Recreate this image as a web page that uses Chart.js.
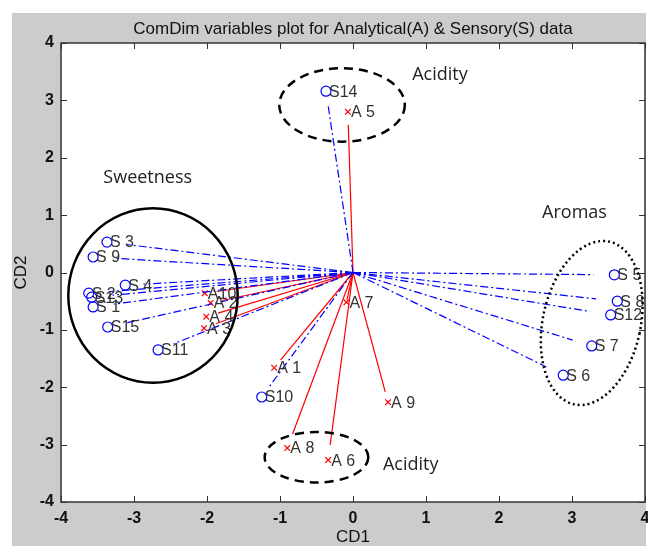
<!DOCTYPE html>
<html>
<head>
<meta charset="utf-8">
<script src="https://cdn.jsdelivr.net/npm/chart.js@4/dist/chart.umd.min.js"></script>
<style>
  html, body { margin: 0; padding: 0; background: #fff; }
  canvas { display: block; }
</style>
</head>
<body>
<canvas id="comdim" width="648" height="546"></canvas>
<script>
// sensory variables (blue circles, dash-dot lines)
const sNames = ["S 1", "S 2", "S 3", "S 4", "S 5", "S 6", "S 7", "S 8",
                "S 9", "S10", "S11", "S12", "S13", "S14", "S15"];
const sX = [-3.56, -3.62, -3.37, -3.12, 3.58, 2.88, 3.27, 3.62,
            -3.56, -1.25, -2.67, 3.53, -3.58, -0.37, -3.36];
const sY = [-0.60, -0.36, 0.53, -0.22, -0.04, -1.79, -1.28, -0.50,
            0.27, -2.17, -1.35, -0.74, -0.43, 3.16, -0.95];

// analytical variables (red crosses, solid lines)
const aNames = ["A 1", "A 2", "A 3", "A 4", "A 5", "A 6", "A 7", "A 8", "A 9", "A10"];
const aX = [-1.08, -1.95, -2.04, -2.01, -0.07, -0.34, -0.09, -0.90, 0.48, -2.03];
const aY = [-1.66, -0.53, -0.97, -0.77, 2.80, -3.27, -0.52, -3.06, -2.26, -0.36];

const axisTicks = [-4, -3, -2, -1, 0, 1, 2, 3, 4];

// hand drawn groups on the figure
const groupNames = ["Acidity", "Sweetness", "Aromas", "Acidity"];
const groupTextX = [0.81, -3.42, 2.59, 0.41];
const groupTextY = [3.44, 1.65, 1.04, -3.35];

// share of the vector length drawn as a line
const lineReach = 0.92;

const BLUE = "#0000ff";
const RED = "#ff0000";
const NARROW = "'Liberation Sans Narrow', 'Arial Narrow', 'Liberation Sans', sans-serif";

const vectorSet = (x, y, color, dash) => ({
  data: [{ x: 0, y: 0 }, { x: x * lineReach, y: y * lineReach }],
  borderColor: color,
  borderWidth: 1.2,
  borderDash: dash,
  pointRadius: 0,
  showLine: true,
  fill: false,
});

const markerSet = (xs, ys, color, style, radius) => ({
  data: xs.map((x, i) => ({ x: x, y: ys[i] })),
  borderColor: color,
  backgroundColor: "transparent",
  pointStyle: style,
  pointRadius: radius,
  pointBorderWidth: 1.2,
  showLine: false,
});

const datasets = [];
sX.forEach((x, i) => datasets.push(vectorSet(x, sY[i], BLUE, [8, 3, 2, 3])));
aX.forEach((x, i) => datasets.push(vectorSet(x, aY[i], RED, [])));
datasets.push(markerSet(sX, sY, BLUE, "circle", 5));
datasets.push(markerSet(aX, aY, RED, "crossRot", 4));

const matlabFrame = {
  id: "matlabFrame",
  beforeDraw(chart) {
    const { ctx, chartArea: a } = chart;
    ctx.save();
    ctx.fillStyle = "#ffffff";
    ctx.fillRect(0, 0, chart.width, chart.height);
    ctx.fillStyle = "#cccccc";
    ctx.fillRect(12, 13, chart.width - 14, chart.height - 13);
    ctx.fillStyle = "#ffffff";
    ctx.fillRect(a.left, a.top, a.right - a.left, a.bottom - a.top);
    ctx.restore();
  },
  afterDatasetsDraw(chart) {
    const { ctx, chartArea: a } = chart;
    const xs = chart.scales.x, ys = chart.scales.y;
    ctx.save();

    // point labels
    ctx.font = "16px 'Liberation Sans', Arial, sans-serif";
    ctx.fillStyle = "#333333";
    ctx.textAlign = "left";
    ctx.textBaseline = "middle";
    sNames.forEach((n, i) => ctx.fillText(n, xs.getPixelForValue(sX[i]) + 3, ys.getPixelForValue(sY[i]) + 1));
    aNames.forEach((n, i) => ctx.fillText(n, xs.getPixelForValue(aX[i]) + 3, ys.getPixelForValue(aY[i]) + 1));

    // ellipses around groups
    const ux = (xs.getPixelForValue(1) - xs.getPixelForValue(0));
    const uy = (ys.getPixelForValue(0) - ys.getPixelForValue(1));
    const ellipse = (cx, cy, rx, ry, rot, dash, width) => {
      ctx.beginPath();
      ctx.setLineDash(dash);
      ctx.lineWidth = width;
      ctx.strokeStyle = "#000000";
      ctx.ellipse(xs.getPixelForValue(cx), ys.getPixelForValue(cy), rx * ux, ry * uy, rot, 0, Math.PI * 2);
      ctx.stroke();
    };
    ellipse(-0.15, 2.92, 0.86, 0.64, 0, [9, 6], 2.5);
    ellipse(-2.74, -0.40, 1.16, 1.52, 0, [], 2.5);
    ellipse(3.27, -0.88, 0.67, 1.45, 0.21, [2, 3], 2.5);
    ellipse(-0.50, -3.22, 0.71, 0.44, 0, [9, 6], 2.5);
    ctx.setLineDash([]);

    ctx.font = "18px 'Open Sans', sans-serif";
    ctx.fillStyle = "#222222";
    ctx.textAlign = "left";
    ctx.textBaseline = "middle";
    groupNames.forEach((n, i) =>
      ctx.fillText(n, xs.getPixelForValue(groupTextX[i]), ys.getPixelForValue(groupTextY[i])));

    // box and inward ticks
    ctx.strokeStyle = "#333333";
    ctx.lineWidth = 1.5;
    ctx.strokeRect(a.left, a.top, a.right - a.left, a.bottom - a.top);
    ctx.lineWidth = 1;
    ctx.beginPath();
    axisTicks.forEach((t) => {
      const px = Math.round(xs.getPixelForValue(t)) + 0.5;
      const py = Math.round(ys.getPixelForValue(t)) + 0.5;
      ctx.moveTo(px, a.bottom); ctx.lineTo(px, a.bottom - 6);
      ctx.moveTo(px, a.top); ctx.lineTo(px, a.top + 6);
      ctx.moveTo(a.left, py); ctx.lineTo(a.left + 6, py);
      ctx.moveTo(a.right, py); ctx.lineTo(a.right - 6, py);
    });
    ctx.stroke();

    // title and axis names
    ctx.fillStyle = "#111111";
    ctx.font = "17px " + NARROW;
    ctx.textAlign = "center";
    ctx.textBaseline = "middle";
    ctx.fillText("ComDim variables plot for Analytical(A) & Sensory(S) data", (a.left + a.right) / 2, 29);
    ctx.fillText("CD1", (a.left + a.right) / 2, 537);
    ctx.translate(21, (a.top + a.bottom) / 2);
    ctx.rotate(-Math.PI / 2);
    ctx.fillText("CD2", 0, 0);
    ctx.restore();
  },
};

new Chart(document.getElementById("comdim").getContext("2d"), {
  type: "scatter",
  data: { datasets: datasets },
  options: {
    responsive: false,
    animation: false,
    devicePixelRatio: 1,
    layout: { autoPadding: false, padding: { top: 43, left: 0, right: 3, bottom: 0 } },
    plugins: { legend: { display: false }, tooltip: { enabled: false } },
    scales: {
      x: {
        type: "linear",
        min: -4,
        max: 4,
        afterFit: (s) => { s.height = 44; s.paddingLeft = 0; s.paddingRight = 0; },
        afterBuildTicks: (s) => { s.ticks = axisTicks.map((v) => ({ value: v })); },
        grid: { display: false, drawTicks: false },
        border: { display: false },
        ticks: {
          padding: 7,
          color: "#111111",
          font: { family: NARROW, size: 16, weight: "bold" },
        },
      },
      y: {
        type: "linear",
        min: -4,
        max: 4,
        afterFit: (s) => { s.width = 61; s.paddingTop = 0; s.paddingBottom = 0; },
        afterBuildTicks: (s) => { s.ticks = axisTicks.map((v) => ({ value: v })); },
        grid: { display: false, drawTicks: false },
        border: { display: false },
        ticks: {
          padding: 7,
          color: "#111111",
          font: { family: NARROW, size: 16, weight: "bold" },
        },
      },
    },
  },
  plugins: [matlabFrame],
});
</script>
</body>
</html>
